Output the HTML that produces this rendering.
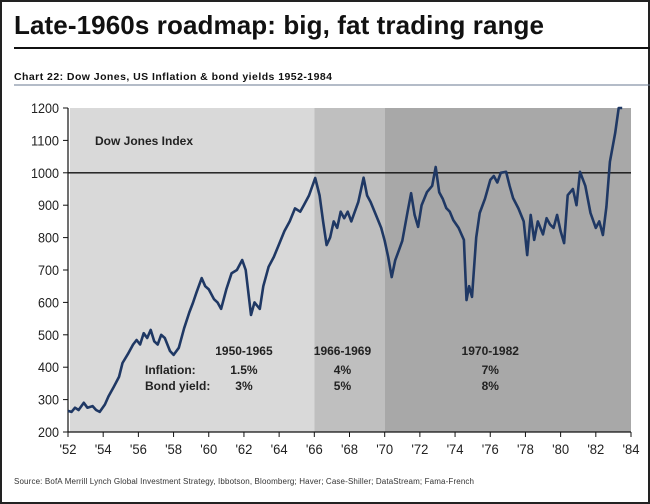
<!DOCTYPE html>
<html><head><meta charset="utf-8"><style>
body{margin:0;background:#fff;}
#wrap{position:relative;width:650px;height:504px;overflow:hidden;font-family:"Liberation Sans",sans-serif;}
</style></head><body>
<div id="wrap">
<svg id="svg" width="650" height="504" xmlns="http://www.w3.org/2000/svg">
<rect x="1" y="1" width="648" height="502" fill="#fff" stroke="#222" stroke-width="2"/>
<text x="14" y="34" font-size="26" font-weight="bold" fill="#111" textLength="530">Late-1960s roadmap: big, fat trading range</text>
<line x1="14" y1="48" x2="650" y2="48" stroke="#111" stroke-width="2"/>
<text x="14" y="80" font-size="10.5" font-weight="bold" fill="#111" textLength="318">Chart 22: Dow Jones, US Inflation &amp; bond yields 1952-1984</text>
<line x1="14" y1="85" x2="650" y2="85" stroke="#6a7a90" stroke-width="1"/>
<g id="plot"></g>
<text x="14" y="484" font-size="8" fill="#333" textLength="460">Source:  BofA Merrill Lynch Global Investment Strategy, Ibbotson,  Bloomberg; Haver; Case-Shiller; DataStream; Fama-French</text>
</svg>
</div>
<script>
const years=[1952,1952.2,1952.4,1952.6,1952.9,1953.1,1953.4,1953.6,1953.8,1954.1,1954.3,1954.6,1954.9,1955.1,1955.4,1955.7,1955.9,1956.1,1956.3,1956.5,1956.7,1956.9,1957.1,1957.3,1957.5,1957.8,1958,1958.3,1958.6,1958.9,1959.1,1959.3,1959.6,1959.8,1960,1960.3,1960.5,1960.7,1961,1961.3,1961.6,1961.9,1962.1,1962.4,1962.6,1962.9,1963.1,1963.4,1963.7,1964,1964.3,1964.6,1964.9,1965.2,1965.4,1965.7,1966.05,1966.3,1966.5,1966.7,1966.9,1967.1,1967.3,1967.5,1967.7,1967.9,1968.1,1968.3,1968.5,1968.8,1969,1969.2,1969.5,1969.8,1970,1970.2,1970.4,1970.6,1970.8,1971,1971.3,1971.5,1971.7,1971.9,1972.1,1972.4,1972.7,1972.9,1973.1,1973.3,1973.5,1973.7,1973.9,1974.2,1974.5,1974.65,1974.8,1974.96,1975.2,1975.4,1975.7,1976,1976.2,1976.4,1976.6,1976.9,1977.1,1977.3,1977.6,1977.9,1978.1,1978.3,1978.5,1978.7,1979,1979.2,1979.4,1979.6,1979.8,1980,1980.2,1980.4,1980.7,1980.9,1981.1,1981.4,1981.7,1982,1982.2,1982.4,1982.6,1982.8,1983.1,1983.3,1983.5];
const values=[265,262,275,268,290,275,280,268,262,285,310,339,370,413,440,470,484,470,505,490,515,480,470,500,490,450,438,460,520,570,598,630,675,650,640,610,600,580,640,690,700,731,700,561,600,580,650,710,740,780,820,850,890,880,900,930,984,930,850,777,800,850,830,880,860,880,850,880,910,985,930,910,870,830,790,740,678,730,760,790,880,937,870,833,900,940,960,1018,940,920,891,880,854,830,793,607,650,617,800,876,920,978,990,970,1000,1003,960,922,890,850,746,870,793,850,810,860,840,830,870,820,783,931,950,900,1003,960,876,830,850,808,895,1034,1123,1200,1200];
const yTicks=[200,300,400,500,600,700,800,900,1000,1100,1200];
const xTicks=["'52","'54","'56","'58","'60","'62","'64","'66","'68","'70","'72","'74","'76","'78","'80","'82","'84"];
const periods=[[1952,1966,"#d9d9d9"],[1966,1970,"#bfbfbf"],[1970,1984,"#a8a8a8"]];
const periodLabels=["1950-1965","1966-1969","1970-1982"];
const inflation=["1.5%","4%","7%"];
const bondYield=["3%","5%","8%"];
const labelYears=[1962,1967.6,1976];

const X0=68,X1=631,Y0=432,Y1=108;
const x=v=>X0+(v-1952)/32*(X1-X0);
const y=v=>Y0-(v-200)/1000*(Y0-Y1);
const g=document.getElementById('plot');
const NS="http://www.w3.org/2000/svg";
function mk(t,a,txt){const e=document.createElementNS(NS,t);for(const k in a)e.setAttribute(k,a[k]);if(txt!=null)e.textContent=txt;g.appendChild(e);return e;}
periods.forEach((p,i)=>{const r=mk('rect',{x:x(p[0])+(i==0?2:0),y:Y1,width:x(p[1])-x(p[0])-(i==0?2:0),height:Y0-Y1,fill:p[2]});

});
const ref=mk('line',{x1:x(1952),x2:x(1984),y1:y(1000),y2:y(1000),stroke:'#111','stroke-width':1.3});


const ax=mk('line',{x1:X0,x2:X0,y1:Y1,y2:Y0,stroke:'#111','stroke-width':1.2});


const bx=mk('line',{x1:X0,x2:X1,y1:Y0,y2:Y0,stroke:'#111','stroke-width':1.2});


yTicks.forEach(v=>{mk('line',{x1:X0-5,x2:X0,y1:y(v),y2:y(v),stroke:'#111'});
const t=mk('text',{x:X0-9,y:y(v)+5,'font-size':14,'text-anchor':'end',fill:'#222',textLength:String(v).length*7,lengthAdjust:'spacingAndGlyphs'},v);

});
xTicks.forEach((s,i)=>{const xv=x(1952+i*2);mk('line',{x1:xv,x2:xv,y1:Y0,y2:Y0+5,stroke:'#111'});
const t=mk('text',{x:xv,y:Y0+22,'font-size':14,'text-anchor':'middle',fill:'#222',textLength:17,lengthAdjust:'spacingAndGlyphs'},s);

});
const lg=mk('text',{x:95,y:145,'font-size':12,'font-weight':'bold',fill:'#222'},'Dow Jones Index');


const l1=mk('text',{x:145,y:374,'font-size':12,'font-weight':'bold',fill:'#222'},'Inflation:');


const l2=mk('text',{x:145,y:390,'font-size':12,'font-weight':'bold',fill:'#222'},'Bond yield:');


labelYears.forEach((yr,i)=>{
const a=mk('text',{x:x(yr),y:355,'font-size':12,'font-weight':'bold','text-anchor':'middle',fill:'#222'},periodLabels[i]);


const b=mk('text',{x:x(yr),y:374,'font-size':12,'font-weight':'bold','text-anchor':'middle',fill:'#222'},inflation[i]);


const c=mk('text',{x:x(yr),y:390,'font-size':12,'font-weight':'bold','text-anchor':'middle',fill:'#222'},bondYield[i]);

});
const pl=mk('polyline',{points:years.map((v,i)=>x(v).toFixed(1)+','+y(values[i]).toFixed(1)).join(' '),fill:'none',stroke:'#1f3864','stroke-width':2.6,'stroke-linejoin':'round'});


</script>
</body></html>
